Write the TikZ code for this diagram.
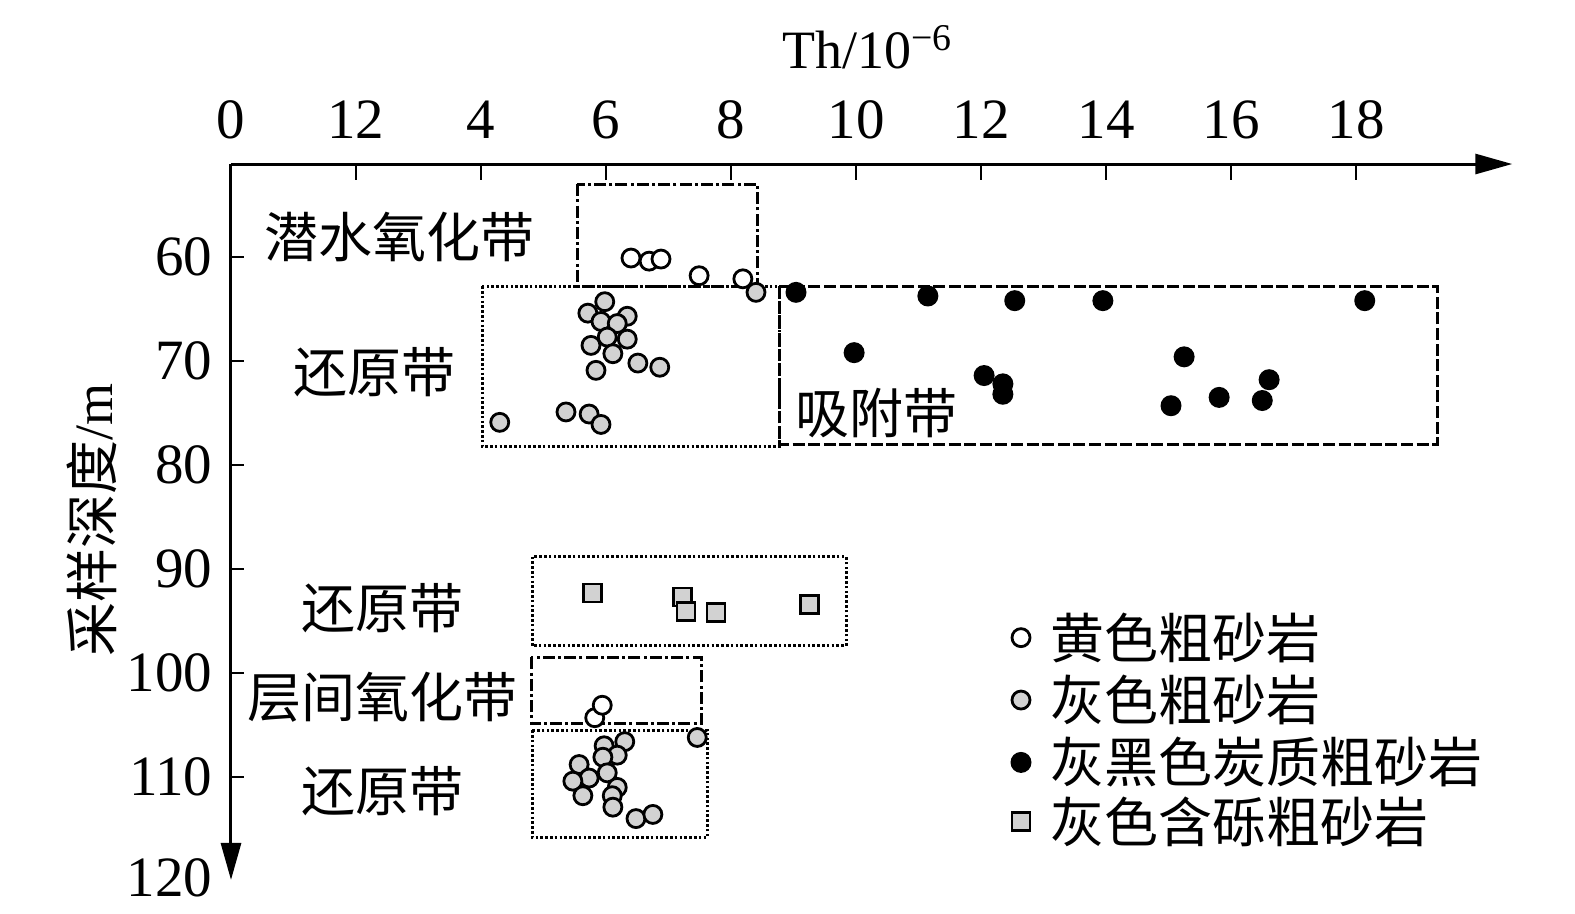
\documentclass[tikz,border=0pt]{standalone}
\usepackage{fontspec}
\setmainfont{Liberation Serif}
\newfontfamily\cjk{Noto Sans CJK SC}
\usetikzlibrary{arrows.meta}
\definecolor{sandgray}{RGB}{210,210,210}

\begin{document}
\begin{tikzpicture}[x=31.25pt,y=-5.2pt,
  every node/.style={font=\fontsize{27}{32}\selectfont},
  num/.style={font=\fontsize{28.5}{34}\selectfont, inner sep=0pt},
  zone/.style={font=\fontsize{27}{32}\selectfont\cjk, inner sep=0pt},
  axis/.style={line width=1.5pt,-{Triangle[length=18.5pt,width=10pt]}},
  tickline/.style={line width=1.3pt},
  dotbox/.style={line width=1.5pt,dash pattern=on 1.3pt off 1.1pt},
  dashbox/.style={line width=1.5pt,dash pattern=on 6pt off 1.8pt},
  dashdotbox/.style={line width=1.5pt,dash pattern=on 6pt off 1.6pt on 1.5pt off 1.6pt},
  ylw/.style={draw, circle, line width=1.4pt, fill=white, minimum size=9pt, inner sep=0pt},
  gry/.style={draw, circle, line width=1.4pt, fill=sandgray, minimum size=9pt, inner sep=0pt},
  blk/.style={circle, fill=black, minimum size=10.5pt, inner sep=0pt},
  sqr/.style={draw, rectangle, line width=1.4pt, fill=sandgray, minimum size=9pt, inner sep=0pt}]
\useasboundingbox (-3.696,35.29) rectangle (21.504,123.08);

% axes
\coordinate (O) at (0,51.06);
\coordinate (xend) at (20.5,51.06);
\coordinate (yend) at (0,119.9);
\draw[axis] (O) -- (xend);
\draw[axis] (O) -- (yend);
\foreach \v/\t in {0/0,2/12,4/4,6/6,8/8,10/10,12/12,14/14,16/16,18/18}
  \node[num] (xl\v) at (\v,46.83) {\t};
\foreach \v in {2,4,...,18}
  \draw[tickline] (\v,51.06) -- (\v,52.6);
\foreach \d in {60,70,...,110} {
  \node[num,anchor=east] (yl\d) at (-0.29,\d) {\d};
  \draw[tickline] (0,\d) -- (0.21,\d);
}
\node[num,anchor=east] (yl120) at (-0.29,119.7) {120};
\node (title) at (10.18,39.8) {Th/10\textsuperscript{−6}};
\node[rotate=90] (ytitle) at (-2.22,85.3) {{\cjk 采样深度}/m};

% zones
\draw[dashdotbox] (5.54,53.0) rectangle (8.42,62.8);
\draw[dotbox] (4.02,62.8) rectangle (8.77,78.2);
\draw[dashbox] (8.77,62.8) rectangle (19.3,78.0);
\draw[dotbox] (4.82,88.8) rectangle (9.84,97.4);
\draw[dashdotbox] (4.80,98.5) rectangle (7.52,104.9);
\draw[dotbox] (4.82,105.5) rectangle (7.62,115.8);
\node[zone] (qsyh) at (2.70,58.1) {潜水氧化带};
\node[zone] (hyd1) at (2.30,71.1) {还原带};
\node[zone] (xfd) at (10.32,75.0) {吸附带};
\node[zone] (hyd2) at (2.43,93.75) {还原带};
\node[zone] (cjyh) at (2.43,102.3) {层间氧化带};
\node[zone] (hyd3) at (2.43,111.4) {还原带};

% samples
\foreach \x/\y [count=\i] in {5.82/104.3,5.94/103.1,6.40/60.1,6.69/60.4,6.88/60.2,7.49/61.8,8.19/62.1}
  \node[ylw] (ylw\i) at (\x,\y) {};
\foreach \x/\y [count=\i] in {5.98/64.3,5.71/65.4,6.34/65.7,5.92/66.2,6.18/66.4,6.02/67.7,6.34/67.9,5.76/68.5,
    6.11/69.3,6.51/70.2,6.86/70.6,5.84/70.9,4.30/75.9,5.36/74.9,5.73/75.1,5.92/76.1,8.40/63.4,
    7.46/106.2,6.30/106.6,5.97/107.0,6.18/107.9,5.95/108.1,5.57/108.8,6.02/109.6,5.73/110.1,
    5.47/110.4,6.18/111.0,5.63/111.8,6.10/111.8,6.11/112.9,6.48/114.0,6.75/113.6}
  \node[gry] (gry\i) at (\x,\y) {};
\foreach \x/\y [count=\i] in {9.04/63.4,11.15/63.75,12.54/64.2,13.95/64.2,18.14/64.2,9.97/69.2,15.25/69.6,
    12.05/71.4,12.35/72.2,12.35/73.2,16.61/71.8,15.81/73.5,16.50/73.8,15.04/74.3}
  \node[blk] (blk\i) at (\x,\y) {};
\foreach \x/\y [count=\i] in {5.78/92.3,7.23/92.7,7.28/94.1,7.76/94.2,9.26/93.4}
  \node[sqr] (sqr\i) at (\x,\y) {};

% legend
\node[ylw] (lg1) at (12.64,96.6) {};
\node[gry] (lg2) at (12.64,102.6) {};
\node[blk] (lg3) at (12.64,108.6) {};
\node[sqr] (lg4) at (12.64,114.3) {};
\node[zone,anchor=west] (lt1) at (13.10,96.6) {黄色粗砂岩};
\node[zone,anchor=west] (lt2) at (13.10,102.6) {灰色粗砂岩};
\node[zone,anchor=west] (lt3) at (13.10,108.6) {灰黑色炭质粗砂岩};
\node[zone,anchor=west] (lt4) at (13.10,114.3) {灰色含砾粗砂岩};
\end{tikzpicture}
\end{document}
